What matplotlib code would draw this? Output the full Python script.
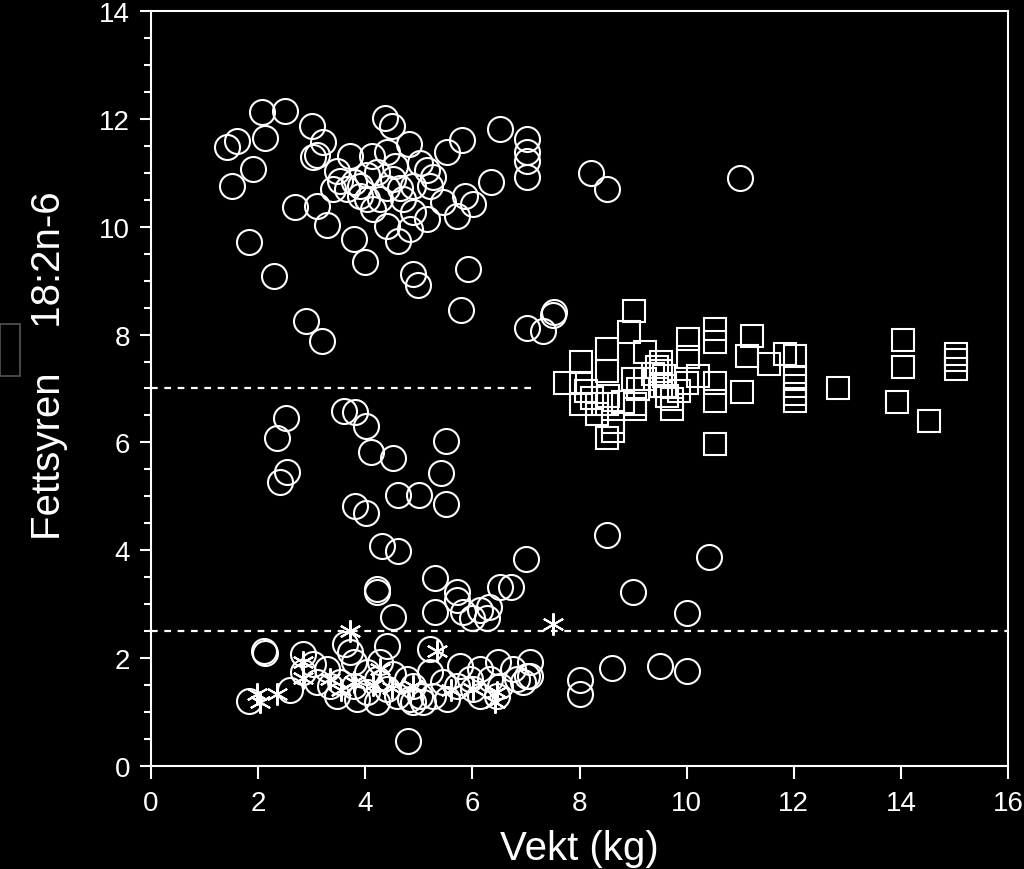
import numpy as np
import matplotlib
matplotlib.use("Agg")
import matplotlib.pyplot as plt
from matplotlib.patches import Rectangle
from matplotlib.ticker import MultipleLocator

plt.rcParams['font.family'] = ['Liberation Sans', 'DejaVu Sans']

# circles (group 1)
circ_x = [2.07, 2.51, 1.42, 1.60, 2.13, 1.91, 1.51, 3.00, 3.21, 3.02, 3.09, 2.69, 3.09, 3.29,
          1.82, 2.30, 3.72, 3.47, 3.53, 3.65, 3.90, 4.03, 4.12, 4.37, 4.49, 4.40, 4.56, 4.82,
          5.02, 5.15, 5.27, 5.52, 5.80, 6.52, 6.34, 7.01, 7.01, 7.01, 7.01, 5.86, 6.01, 5.71,
          5.46, 5.15, 4.90, 4.65, 4.71, 4.40, 4.28, 4.03, 3.90, 4.15, 4.40, 4.62, 4.84, 3.78,
          4.00, 4.90, 4.99, 5.92, 4.21, 4.90, 5.21, 4.52, 3.78, 3.40,
          2.89, 3.19, 5.79, 8.21, 8.51, 11.00, 7.01, 7.31, 7.50, 7.52,
          2.52, 2.35, 2.53, 2.41, 3.61, 3.81, 4.01, 4.11, 4.51, 5.51, 5.41, 5.51, 4.61, 5.00,
          3.81, 4.01, 4.31, 4.62, 4.21, 4.21, 5.30, 4.51, 5.71, 5.71, 5.30, 5.82, 6.14, 6.31,
          6.52, 6.72, 7.00, 8.51, 10.41, 9.00, 10.00, 8.60, 9.50, 10.00, 8.01, 8.01,
          2.10, 2.12, 1.82, 2.60, 2.84, 2.84, 3.03, 3.28, 3.34, 3.47, 3.62, 3.72, 3.78, 4.03,
          4.40, 4.28, 4.21, 4.03, 3.84, 4.21, 4.52, 4.77, 4.90, 5.02, 4.84, 5.21, 5.27, 5.21,
          5.52, 5.77, 5.96, 6.14, 6.33, 6.48, 6.76, 7.08, 7.01, 6.83, 6.52, 6.00, 6.27, 4.80,
          3.09, 3.53, 3.78, 4.40, 4.59, 4.90, 5.08, 5.46, 5.71, 6.02, 6.14, 6.45, 6.95, 7.08]
circ_y = [12.13, 12.15, 11.47, 11.59, 11.64, 11.07, 10.75, 11.87, 11.57, 11.29, 11.33, 10.36,
          10.39, 10.03, 9.71, 9.09, 11.31, 11.03, 10.85, 10.70, 10.76, 10.95, 11.32, 12.01,
          11.87, 11.38, 11.13, 11.53, 11.19, 11.05, 10.92, 11.39, 11.61, 11.82, 10.82, 11.63,
          11.38, 11.22, 10.92, 10.57, 10.42, 10.20, 10.45, 10.14, 10.27, 10.71, 10.51, 10.71,
          10.51, 10.51, 10.57, 10.33, 10.02, 9.74, 9.96, 9.77, 9.34, 9.12, 8.91, 9.22, 11.01,
          10.76, 10.76, 10.88, 10.82, 10.70,
          8.25, 7.88, 8.46, 11.00, 10.70, 10.90, 8.13, 8.07, 8.36, 8.41,
          6.45, 6.08, 5.46, 5.26, 6.58, 6.56, 6.31, 5.83, 5.71, 6.02, 5.43, 4.86, 5.03, 5.02,
          4.82, 4.70, 4.08, 3.98, 3.28, 3.22, 3.48, 2.76, 3.22, 3.07, 2.85, 2.86, 2.89, 2.95,
          3.32, 3.32, 3.84, 4.28, 3.87, 3.22, 2.84, 1.82, 1.86, 1.76, 1.59, 1.34,
          2.14, 2.10, 1.21, 1.40, 2.08, 1.74, 1.89, 1.80, 1.49, 1.30, 2.26, 2.11, 1.92, 1.74,
          2.23, 1.92, 1.61, 1.37, 1.24, 1.18, 1.71, 1.61, 1.49, 1.30, 1.24, 1.74, 1.30, 2.17,
          1.24, 1.86, 1.61, 1.80, 1.61, 1.92, 1.80, 1.92, 1.67, 1.61, 1.49, 2.75, 2.75, 0.47,
          1.55, 1.55, 1.49, 1.43, 1.30, 1.18, 1.19, 1.55, 1.49, 1.43, 1.30, 1.30, 1.55, 1.67]

# squares (group 2)
sq_x = [9.02, 8.93, 8.52, 8.52, 8.02, 7.72, 8.02, 8.02, 8.23, 8.32, 8.52, 8.62, 8.52, 9.22,
        9.53, 9.53, 9.22, 9.04, 9.04, 9.53, 9.72, 9.63, 10.02, 10.02, 10.22, 10.00, 10.53,
        10.53, 10.53, 10.53, 10.53, 11.03, 11.22, 11.12, 11.53, 11.84, 12.02, 12.02, 12.02,
        12.02, 12.02, 12.83, 14.03, 14.03, 13.92, 14.53, 15.02, 15.02, 15.02, 9.45, 9.58,
        9.38, 9.60, 9.85, 9.00, 8.53, 8.32, 8.63, 9.72, 9.10, 8.81, 8.13]
sq_y = [8.44, 8.04, 7.74, 7.33, 7.50, 7.11, 7.11, 6.71, 6.83, 6.71, 6.71, 6.37, 6.08, 7.67,
        7.49, 7.33, 7.18, 6.71, 6.62, 7.05, 6.62, 6.87, 7.92, 7.58, 7.24, 7.11, 8.10, 7.86,
        7.11, 6.77, 5.97, 6.94, 7.98, 7.61, 7.45, 7.64, 7.61, 7.21, 7.05, 6.90, 6.77, 7.00,
        7.90, 7.39, 6.75, 6.40, 7.64, 7.52, 7.36, 7.40, 7.23, 7.27, 7.05, 6.96, 7.18, 6.87,
        6.53, 6.22, 6.80, 6.99, 6.75, 6.96]

# asterisks (group 3)
ast_x = [3.72, 1.97, 2.04, 2.35, 2.84, 2.84, 5.33, 6.02, 6.42, 6.45, 7.51, 4.28, 3.34, 3.78,
         4.90, 4.15, 4.50, 3.55, 5.60]
ast_y = [2.51, 1.34, 1.18, 1.34, 1.92, 1.64, 2.14, 1.43, 1.18, 1.37, 2.63, 1.80, 1.61, 1.55,
         1.49, 1.50, 1.45, 1.40, 1.40]

# reference lines
line_upper_y = 7.0
line_upper_xmax = 7.2
line_lower_y = 2.5

fig = plt.figure(figsize=(10.24, 8.7), dpi=100, facecolor='black')
ax = fig.add_axes([0.1475, 0.1184, 0.8369, 0.8678])
ax.set_facecolor('black')

lw = 1.5
ax.plot([0, line_upper_xmax], [line_upper_y, line_upper_y], color='white', lw=1.6,
        ls=(0, (3, 3)), zorder=1)
ax.plot([0, 16], [line_lower_y, line_lower_y], color='white', lw=1.6,
        ls=(0, (3, 3)), zorder=1)

ax.plot(circ_x, circ_y, 'o', ms=18, mfc='none', mec='white', mew=lw, ls='none', zorder=3)
ax.plot(sq_x, sq_y, 's', ms=15.8, mfc='none', mec='white', mew=lw, ls='none', zorder=3)
ax.plot(ast_x, ast_y, marker=(6, 2, 0), ms=16, mec='white', mew=lw, ls='none', zorder=4)

ax.set_xlim(0, 16)
ax.set_ylim(0, 14)
ax.xaxis.set_major_locator(MultipleLocator(2))
ax.yaxis.set_major_locator(MultipleLocator(2))
ax.yaxis.set_minor_locator(MultipleLocator(0.5))

for s in ax.spines.values():
    s.set_color('white')
    s.set_linewidth(1.5)

ax.tick_params(axis='both', which='major', direction='out', length=8, width=1.5,
               colors='white', labelsize=20)
ax.tick_params(axis='y', which='minor', direction='out', length=5, width=1.5, colors='white')
ax.tick_params(axis='x', which='major', length=9, pad=8)
ax.tick_params(axis='y', which='major', pad=7)

ax.set_xlabel('Vekt (kg)', color='white', fontsize=29, labelpad=10)
ax.set_ylabel('Fettsyren    18:2n-6', color='white', fontsize=29)
ax.yaxis.set_label_coords(-0.097, 0.532)

fig.patches.append(Rectangle((0.0, 0.5667), 20 / 1024, 0.0597, transform=fig.transFigure,
                             facecolor='black', edgecolor='#555555', lw=1.2))

fig.savefig('out.png', dpi=100, facecolor='black')
